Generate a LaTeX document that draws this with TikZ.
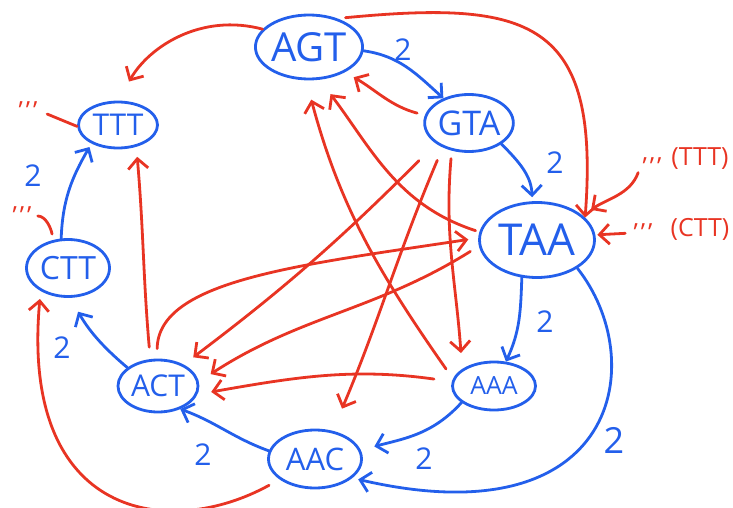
\documentclass[tikz,border=0pt]{standalone}
\usepackage{fontspec}
\setmainfont{Open Sans}
\usetikzlibrary{shapes.geometric,arrows.meta}
\definecolor{penblue}{RGB}{35,95,235}
\definecolor{penred}{RGB}{232,52,35}
\newcommand{\fsz}[1]{\fontsize{#1}{#1}\selectfont}
\newcommand{\ticks}{'\kern1.5pt'\kern1.5pt'}

\begin{document}
\begin{tikzpicture}[x=0.5pt,y=0.5pt,
	seq/.style={ellipse,draw=penblue,line width=1.4pt,text=penblue,inner sep=0pt},
	bl/.style={draw=penblue,line width=1.4pt,line cap=round,-{Straight Barb[length=5pt,width=10pt]}},
	rd/.style={draw=penred,line width=1.4pt,line cap=round,-{Straight Barb[length=5pt,width=10pt]}},
	stub/.style={draw=penred,line width=1.4pt,line cap=round},
	wt/.style={text=penblue,font=\fsz{15}},
	note/.style={text=penred,font=\fsz{12.5},inner sep=1pt}]
	\useasboundingbox (0,0) rectangle (733,-508);
	
	% sequences
	\node[seq,minimum width=46pt,minimum height=32pt,font=\fsz{20}] (agt) at (309,-47) {AGT};
	\node[seq,minimum width=39pt,minimum height=28.5pt,font=\fsz{17}] (gta) at (469,-123) {GTA};
	\node[seq,minimum width=57.5pt,minimum height=37.5pt,font=\fsz{22}] (taa) at (537,-240) {TAA};
	\node[seq,minimum width=39.5pt,minimum height=23pt,font=\fsz{15}] (ttt) at (118,-125) {TTT};
	\node[seq,minimum width=41.5pt,minimum height=28.5pt,font=\fsz{16}] (ctt) at (68,-268) {CTT};
	\node[seq,minimum width=40pt,minimum height=26pt,font=\fsz{15}] (act) at (158,-386) {ACT};
	\node[seq,minimum width=41.5pt,minimum height=24pt,font=\fsz{12.5}] (aaa) at (494,-386) {AAA};
	\node[seq,minimum width=46.5pt,minimum height=29pt,font=\fsz{15.5}] (aac) at (315,-459) {AAC};
	
	% blue edges
	\draw[bl] (agt.-4) to[out=-8,in=138] (gta.136);
	\draw[bl,shorten >=2pt] (gta.-33) to[out=-45,in=92] (taa.97);
	\draw[bl,shorten >=2pt] (ctt.103) to[out=88,in=240] (ttt.215);
	\draw[bl] (taa.248) to[out=268,in=65] (aaa.64);
	\draw[bl,shorten >=7pt] (aaa.207) to[out=228,in=15] (aac.11);
	\draw[bl] (aac.170) to[out=160,in=-20] (act.314);
	\draw[bl,shorten >=8pt] (act.149) to[out=140,in=-60] (ctt.-86);
	\draw[bl,shorten >=3pt] (taa.-35) .. controls (650,-360) and (620,-540) .. (aac.-27);
	
	\node[wt] (w1) at (403,-50) {2};
	\node[wt] (w2) at (555,-163) {2};
	\node[wt] (w3) at (33,-176) {2};
	\node[wt] (w4) at (545,-322) {2};
	\node[wt] (w5) at (424,-459) {2};
	\node[wt] (w6) at (203,-455) {2};
	\node[wt] (w7) at (62,-348) {2};
	\node[wt,font=\fsz{18}] (w8) at (614,-440) {2};
	
	% red edges
	\draw[rd,shorten >=11pt] (agt.159) to[out=165,in=60] (ttt.90);
	\draw[rd,shorten <=4pt] (agt.45) .. controls (530,0) and (600,-20) .. (taa.25);
	\draw[rd,shorten <=4pt,shorten >=5pt] (gta.170) to[out=165,in=-30] (agt.-35);
	\draw[rd,shorten <=6pt,shorten >=10pt] (aaa.170) to[out=125,in=-75] (agt.-95);
	\draw[rd,shorten <=2pt,shorten >=9pt] (taa.172) to[out=162,in=-53] (agt.-72);
	\draw[rd,shorten <=6pt,shorten >=5pt] (act.106) to[out=95,in=-85] (ttt.-50);
	\draw[rd,shorten <=5pt,shorten >=5pt] (act.92) .. controls (158,-280) and (300,-265) .. (taa.178);
	\draw[rd,shorten <=12pt,shorten >=6pt] (gta.212) to[out=225,in=37] (act.40);
	\draw[rd,shorten <=5pt,shorten >=7pt] (taa.186) to[out=212,in=33] (act.6);
	\draw[rd,shorten <=9pt,shorten >=7pt] (aaa.174) to[out=172,in=10] (act.-12);
	\draw[rd,shorten <=7pt,shorten >=12pt] (gta.223) to[out=247,in=67] (aac.58);
	\draw[rd,shorten <=4pt,shorten >=8pt] (gta.238) to[out=265,in=94] (aaa.152);
	\draw[rd,shorten <=6pt,shorten >=4pt] (aac.210) .. controls (170,-540) and (20,-520) .. (ctt.220);
	
	% loose ends
	\node[note] (d1) at (28,-111) {\ticks};
	\draw[stub,shorten <=4pt] (d1.east) -- (ttt.182);
	\node[note] (d2) at (22,-216) {\ticks};
	\draw[stub,shorten <=2pt,shorten >=3pt] (d2.east) to[out=0,in=100] (ctt.118);
	\node[note] (d3) at (652,-167) {\ticks};
	\node[note] (n3) at (700,-159) {(TTT)};
	\draw[rd,shorten <=3pt,shorten >=5pt] (d3.west) to[out=250,in=35] (taa.28);
	\node[note] (d4) at (643,-233) {\ticks};
	\node[note] (n4) at (700,-229) {(CTT)};
	\draw[rd,shorten <=3pt,shorten >=1pt] (d4.west) -- (taa.5);
\end{tikzpicture}
\end{document}
